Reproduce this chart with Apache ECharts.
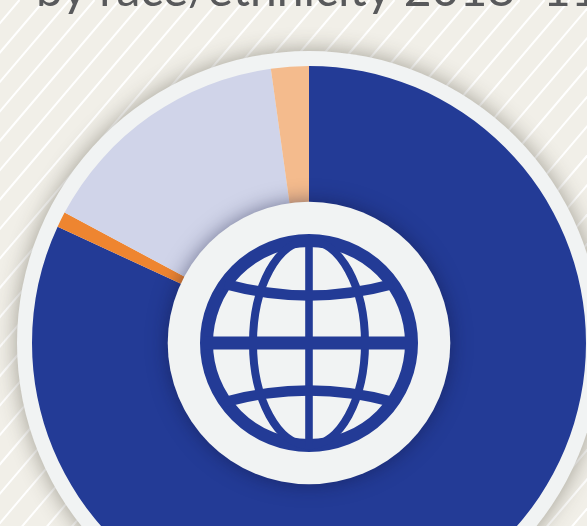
<!DOCTYPE html>
<html><head><meta charset="utf-8">
<style>html,body{margin:0;padding:0;background:#f1efe8;overflow:hidden}#c{width:587px;height:526px}</style>
<script src="https://cdn.jsdelivr.net/npm/echarts@6/dist/echarts.min.js"></script>
</head><body><div id="c"></div>
<script>
const categories = ['Group A', 'Group B', 'Group C', 'Group D'];
const shares = [81.9, 0.9, 15.0, 2.2];
const sliceColors = ['#233b96', '#ee8530', '#d0d4e9', '#f4bb8d'];
const titleText = 'by race/ethnicity 2018–11';

const cx = 309, cy = 343;
const navy = '#233b96', paper = '#f1f3f3';
const chart = echarts.init(document.getElementById('c'), null, {renderer: 'canvas'});
const stripes = [];
for (let k = -2; k < 50; k++) {
  const x0 = 19.5 + k * 25;
  stripes.push({type: 'line', silent: true, z: 0,
    shape: {x1: x0, y1: 0, x2: x0 - 0.85 * 530, y2: 530},
    style: {stroke: '#ffffff', lineWidth: 2}});
}
const arc = (y0, yc) => ({type: 'bezierCurve', z: 51, silent: true,
  shape: {x1: 225, y1: y0, x2: 393, y2: y0, cpx1: 309, cpy1: yc},
  style: {fill: null, stroke: navy, lineWidth: 10.5}});
chart.setOption({
  animation: false,
  backgroundColor: 'transparent',
  series: [{
    type: 'pie', z: 5, center: [cx, cy], radius: [100, 277], startAngle: 90, clockwise: true,
    silent: true, label: {show: false}, labelLine: {show: false},
    itemStyle: {borderWidth: 0},
    data: categories.map((name, i) => ({name, value: shares[i], itemStyle: {color: sliceColors[i]}}))
  }],
  graphic: {elements: [
    ...stripes,
    {type: 'circle', z: 1, silent: true, shape: {cx, cy, r: 292},
     style: {fill: paper, shadowBlur: 22, shadowColor: 'rgba(60,55,40,0.45)'}},
    {type: 'circle', z: 50, silent: true, shape: {cx, cy, r: 141.3},
     style: {fill: paper, shadowBlur: 20, shadowColor: 'rgba(15,20,60,0.5)'}},
    {type: 'circle', z: 51, silent: true, shape: {cx, cy, r: 102.5}, style: {fill: null, stroke: navy, lineWidth: 13}},
    {type: 'ellipse', z: 51, silent: true, shape: {cx, cy, rx: 56, ry: 102.5}, style: {fill: null, stroke: navy, lineWidth: 8}},
    {type: 'line', z: 51, silent: true, shape: {x1: cx, y1: 240, x2: cx, y2: 446}, style: {stroke: navy, lineWidth: 7.6}},
    {type: 'line', z: 51, silent: true, shape: {x1: 205, y1: cy, x2: 413, y2: cy}, style: {stroke: navy, lineWidth: 13}},
    arc(284, 307),
    arc(402, 379),
    {type: 'text', z: 60, silent: true, x: 36, y: -33,
     style: {text: titleText, fill: '#58595b', fontFamily: 'Lato', fontSize: 48}}
  ]}
});
</script></body></html>
